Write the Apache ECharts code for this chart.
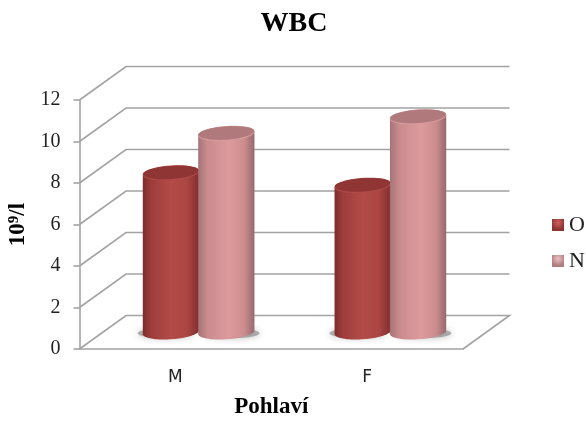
<!DOCTYPE html>
<html>
<head>
<meta charset="utf-8">
<title>WBC</title>
<style>
  html, body { margin: 0; padding: 0; background: #fff; }
  #chart { width: 586px; height: 421px; overflow: hidden; }
</style>
<script src="https://cdn.jsdelivr.net/npm/echarts@6/dist/echarts.min.js"></script>
</head>
<body>
<div id="chart"></div>
<script>
var categories = ['M', 'F']
var seriesNames = ['O', 'N']
var valuesO = [7.7, 7.1]
var valuesN = [9.6, 10.4]
var yTicks = [0, 2, 4, 6, 8, 10, 12]

// the fake 3D box: how far the back wall sits from the front plane
var depthX = 46.5
var depthY = -33.5
var serif = '"Liberation Serif", serif'

function ellipsePts(cx, cy, rx, ry, from, to, tilt) {
  var pts = []
  var c = Math.cos(tilt)
  var s = Math.sin(tilt)
  for (var i = 0; i <= 48; i++) {
    var a = from + (to - from) * i / 48
    var x = rx * Math.cos(a)
    var y = ry * Math.sin(a)
    pts.push([cx + x * c - y * s, cy + x * s + y * c])
  }
  return pts
}

function sideGradient(stops) {
  return new echarts.graphic.LinearGradient(0, 0, 1, 0, stops)
}

var bodyColors = {
  O: [
    { offset: 0, color: '#7d2c2a' },
    { offset: 0.14, color: '#9c3d3b' },
    { offset: 0.5, color: '#b34b48' },
    { offset: 0.78, color: '#ab4643' },
    { offset: 1, color: '#822f2d' }
  ],
  N: [
    { offset: 0, color: '#a57476' },
    { offset: 0.16, color: '#c98b8e' },
    { offset: 0.55, color: '#de9a9d' },
    { offset: 0.82, color: '#cc8c8e' },
    { offset: 1, color: '#96696b' }
  ]
}
var capColors = {
  O: { fill: '#8f3533', rim: '#b04a48' },
  N: { fill: '#b07a7d', rim: '#d79a9d' }
}

function cylinderItem(name, side) {
  return function (params, api) {
    var base = api.coord([api.value(0), 0])
    var top = api.coord([api.value(0), api.value(1)])
    var cx = base[0] + depthX / 2 + side * 27.7
    var y0 = base[1] + depthY / 2
    var y1 = top[1] + depthY / 2
    var rx = 28.2
    var ry = 7
    var tilt = -0.07
    var body = ellipsePts(cx, y0, rx, ry, 0, Math.PI, tilt)
      .concat(ellipsePts(cx, y1, rx, ry, Math.PI, 2 * Math.PI, tilt))
    return {
      type: 'group',
      children: [
        {
          type: 'polygon',
          shape: { points: ellipsePts(cx + side * 5, y0 + 1, rx, 5, 0, 2 * Math.PI, 0) },
          style: { fill: 'rgba(130,130,130,0.6)', shadowBlur: 7, shadowColor: 'rgba(120,120,120,0.8)' },
          silent: true
        },
        {
          type: 'polygon',
          shape: { points: body },
          style: { fill: sideGradient(bodyColors[name]) }
        },
        {
          type: 'polygon',
          shape: { points: ellipsePts(cx, y1 + 0.8, rx - 0.2, ry, 0, 2 * Math.PI, tilt) },
          style: { fill: capColors[name].rim }
        },
        {
          type: 'polygon',
          shape: { points: ellipsePts(cx, y1, rx - 0.6, ry - 0.4, 0, 2 * Math.PI, tilt) },
          style: { fill: capColors[name].fill }
        }
      ]
    }
  }
}

// side wall, back wall and floor lines, one polyline per axis tick
function wallItem(params, api) {
  var box = params.coordSys
  var y = api.coord([0, api.value(0)])[1]
  var left = box.x
  var right = box.x + box.width
  var points = [[left, y], [left + depthX, y + depthY], [right + depthX, y + depthY]]
  if (api.value(0) === 0) {
    points.push([right, y])
  }
  return {
    type: 'polyline',
    shape: { points: points },
    style: { stroke: '#a3a3a3', lineWidth: 1.6, fill: null },
    silent: true
  }
}

var chart = echarts.init(document.getElementById('chart'))
chart.setOption({
  animation: false,
  backgroundColor: '#fff',
  title: {
    text: 'WBC',
    left: 289,
    top: 5,
    textAlign: 'center',
    textStyle: { fontFamily: serif, fontWeight: 'bold', fontSize: 28, color: '#000' }
  },
  legend: {
    data: seriesNames,
    orient: 'vertical',
    left: 547,
    top: 209,
    itemWidth: 12,
    itemHeight: 12,
    itemGap: 14,
    icon: 'rect',
    textStyle: { fontFamily: serif, fontSize: 22, color: '#222' }
  },
  grid: { left: 79.5, right: 123, top: 100, bottom: 72, outerBoundsMode: 'none' },
  xAxis: {
    type: 'category',
    data: categories,
    name: 'Pohlaví',
    nameLocation: 'middle',
    nameGap: 47,
    nameTextStyle: { fontFamily: serif, fontWeight: 'bold', fontSize: 23, color: '#000' },
    axisLine: { lineStyle: { color: '#a3a3a3', width: 1.6 } },
    axisTick: { show: false },
    axisLabel: { margin: 20, fontFamily: '"DejaVu Sans", sans-serif', fontSize: 17, color: '#222' }
  },
  yAxis: {
    type: 'value',
    min: 0,
    max: 12,
    interval: 2,
    name: '{a|10}{b|9}{a|/l}',
    nameLocation: 'middle',
    nameGap: 47,
    nameTextStyle: {
      rich: {
        a: { fontFamily: serif, fontWeight: 'bold', fontSize: 23, color: '#000' },
        b: { fontFamily: serif, fontWeight: 'bold', fontSize: 15, color: '#000', verticalAlign: 'top' }
      }
    },
    axisLine: { show: true, lineStyle: { color: '#a3a3a3', width: 1.6 } },
    axisTick: { show: true, length: 6, lineStyle: { color: '#a3a3a3', width: 1.6 } },
    axisLabel: { margin: 19, fontFamily: serif, fontSize: 20, color: '#222' },
    splitLine: { show: false }
  },
  series: [
    {
      type: 'custom',
      z: 1,
      renderItem: wallItem,
      encode: { y: 0 },
      data: yTicks.map(function (t) { return [t] })
    },
    {
      type: 'custom',
      name: 'O',
      z: 2,
      renderItem: cylinderItem('O', -1),
      encode: { x: 0, y: 1 },
      itemStyle: { color: new echarts.graphic.RadialGradient(0.5, 0.3, 0.6, [
        { offset: 0, color: '#d0605c' }, { offset: 1, color: '#8a3331' }
      ]) },
      data: valuesO.map(function (v, i) { return [i, v] })
    },
    {
      type: 'custom',
      name: 'N',
      z: 3,
      renderItem: cylinderItem('N', 1),
      encode: { x: 0, y: 1 },
      itemStyle: { color: new echarts.graphic.RadialGradient(0.5, 0.3, 0.6, [
        { offset: 0, color: '#ecc0c2' }, { offset: 1, color: '#b07c7f' }
      ]) },
      data: valuesN.map(function (v, i) { return [i, v] })
    }
  ]
})
</script>
</body>
</html>
